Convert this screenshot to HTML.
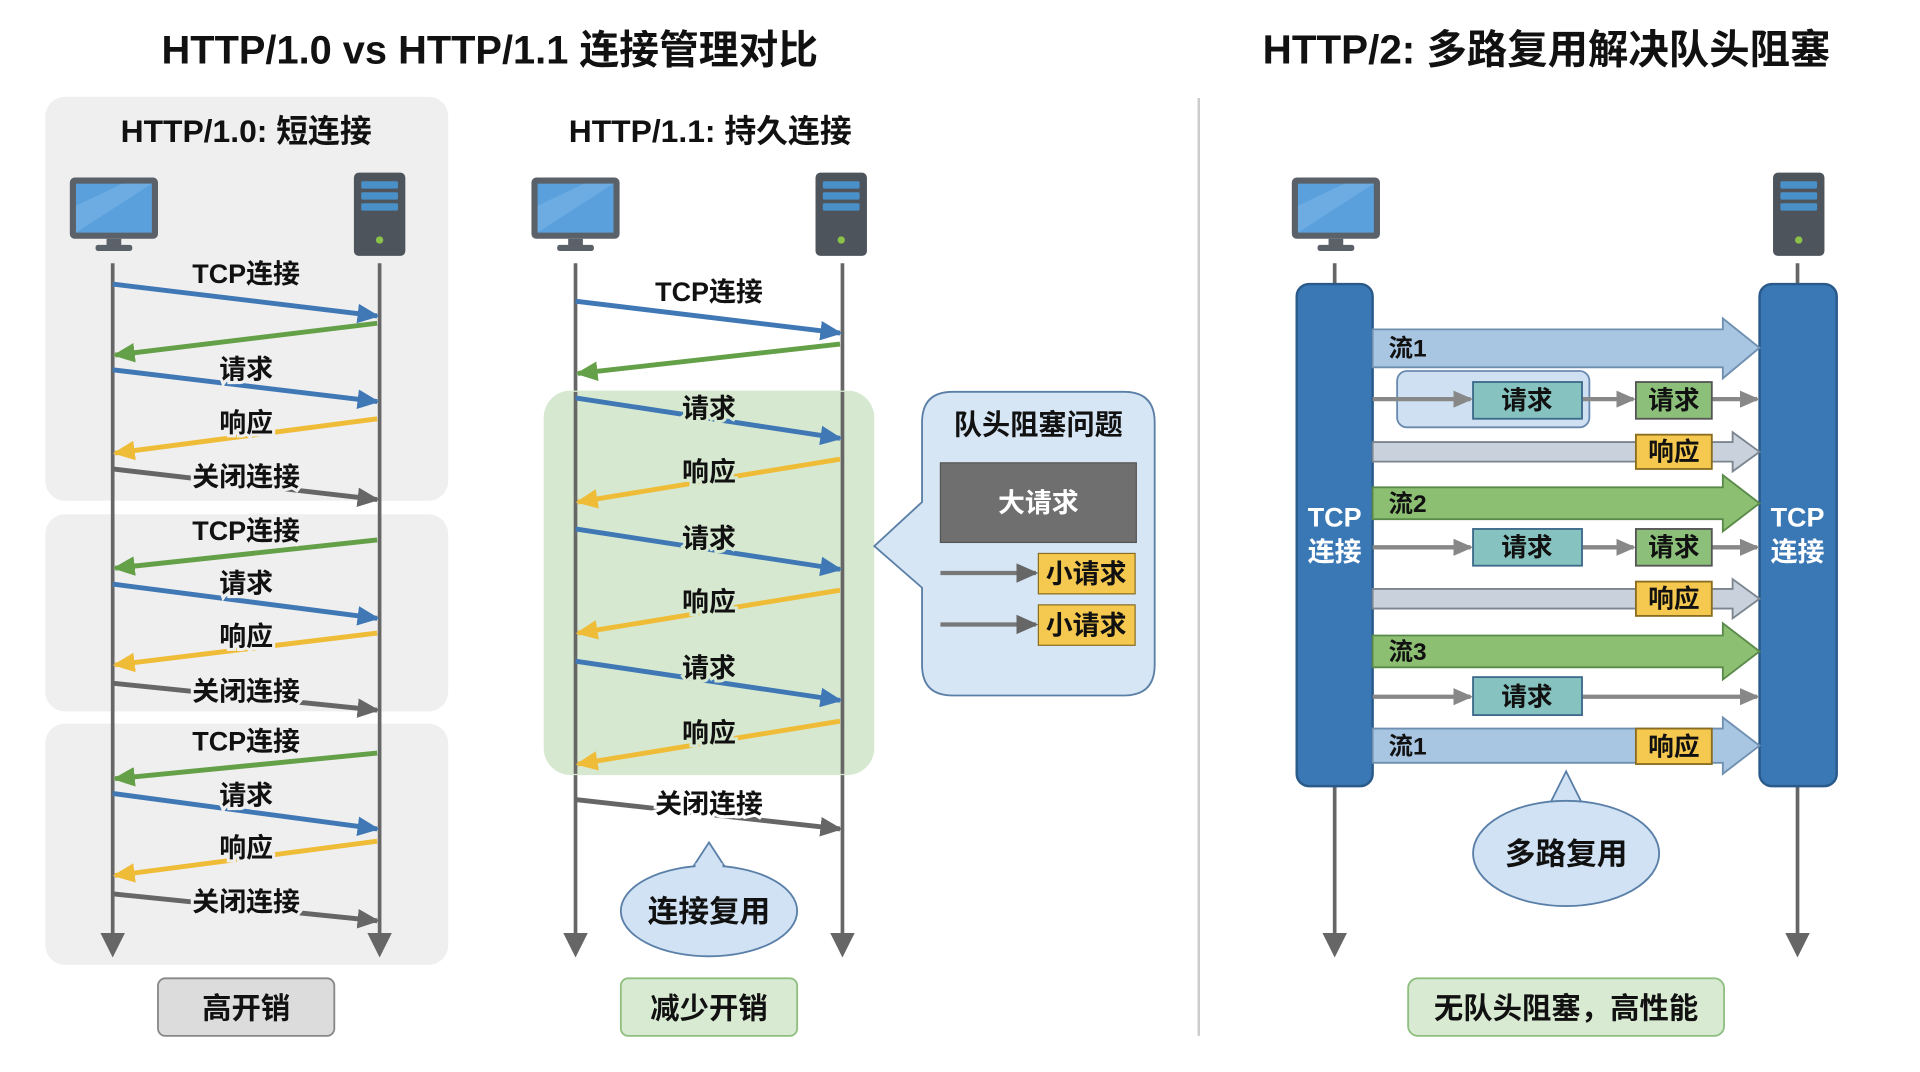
<!DOCTYPE html>
<html><head><meta charset="utf-8"><style>
html,body{margin:0;padding:0;background:#fff}
svg{display:block}
text{font-family:"Liberation Sans","Noto Sans CJK SC",sans-serif;font-weight:bold;fill:#111}
</style></head><body>
<svg width="1920" height="1072" viewBox="0 0 1568 875.5" xmlns="http://www.w3.org/2000/svg">
<defs>
<marker id="mb" markerUnits="userSpaceOnUse" markerWidth="18" markerHeight="16" refX="16" refY="8" orient="auto"><path d="M0,0 L18,8 L0,16 z" fill="#3f78b4"/></marker>
<marker id="mg" markerUnits="userSpaceOnUse" markerWidth="18" markerHeight="16" refX="16" refY="8" orient="auto"><path d="M0,0 L18,8 L0,16 z" fill="#63a047"/></marker>
<marker id="my" markerUnits="userSpaceOnUse" markerWidth="18" markerHeight="16" refX="16" refY="8" orient="auto"><path d="M0,0 L18,8 L0,16 z" fill="#efbc38"/></marker>
<marker id="mk" markerUnits="userSpaceOnUse" markerWidth="18" markerHeight="16" refX="16" refY="8" orient="auto"><path d="M0,0 L18,8 L0,16 z" fill="#666"/></marker>
<marker id="mk2" markerUnits="userSpaceOnUse" markerWidth="16" markerHeight="14" refX="14" refY="7" orient="auto"><path d="M0,0 L16,7 L0,14 z" fill="#888"/></marker>
</defs>

<!-- titles -->
<text x="400" y="52" font-size="32.5" text-anchor="middle">HTTP/1.0 vs HTTP/1.1 连接管理对比</text>
<text x="1263" y="52" font-size="33" text-anchor="middle">HTTP/2: 多路复用解决队头阻塞</text>
<line x1="979" y1="80" x2="979" y2="846" stroke="#ccc" stroke-width="2"/>

<!-- left panels -->
<rect x="37" y="79" width="329" height="330" rx="16" fill="#efefef"/>
<rect x="37" y="420" width="329" height="161" rx="16" fill="#efefef"/>
<rect x="37" y="591" width="329" height="197" rx="16" fill="#efefef"/>
<text x="201" y="116" font-size="26" text-anchor="middle">HTTP/1.0: 短连接</text>
<text x="580" y="116" font-size="26" text-anchor="middle">HTTP/1.1: 持久连接</text>

<!-- icons -->
<g id="mon1">
<rect x="57" y="145" width="72" height="50" rx="4" fill="#5b6168"/><rect x="62" y="150" width="62" height="40" fill="#5aa0dc"/><path d="M62,190 L62,168 L100,150 L124,150 L124,150 Z" fill="#7db8e8" opacity="0.5"/>
<rect x="87" y="195" width="12" height="6" fill="#5b6168"/><rect x="78" y="200" width="30" height="5" rx="2" fill="#5b6168"/>
</g>
<use href="#mon1" x="377" y="0"/>
<use href="#mon1" x="998" y="0"/>
<g id="srv1">
<rect x="289" y="141" width="42" height="68" rx="4" fill="#4d545c"/>
<rect x="295" y="148" width="30" height="6" rx="1" fill="#4a90c8"/><rect x="295" y="157" width="30" height="6" rx="1" fill="#4a90c8"/><rect x="295" y="166" width="30" height="6" rx="1" fill="#4a90c8"/>
<circle cx="310" cy="196" r="3" fill="#8bc34a"/>
</g>
<use href="#srv1" x="377" y="0"/>
<use href="#srv1" x="1159" y="0"/>

<!-- lifelines -->
<g stroke="#666" stroke-width="3">
<line x1="92" y1="215" x2="92" y2="766"/>
<line x1="310" y1="215" x2="310" y2="766"/>
<line x1="470" y1="215" x2="470" y2="766"/>
<line x1="688" y1="215" x2="688" y2="766"/>
<line x1="1090" y1="215" x2="1090" y2="766"/>
<line x1="1468" y1="215" x2="1468" y2="766"/>
</g>
<g fill="#666">
<path d="M82,762 L102,762 L92,782 Z"/><path d="M300,762 L320,762 L310,782 Z"/>
<path d="M460,762 L480,762 L470,782 Z"/><path d="M678,762 L698,762 L688,782 Z"/>
<path d="M1080,762 L1100,762 L1090,782 Z"/><path d="M1458,762 L1478,762 L1468,782 Z"/>
</g>

<!-- HTTP/1.0 arrows -->
<g stroke-width="4">
<line x1="92" y1="232" x2="308" y2="258" stroke="#3f78b4" marker-end="url(#mb)"/>
<line x1="308" y1="264" x2="94" y2="290" stroke="#63a047" marker-end="url(#mg)"/>
<line x1="92" y1="302" x2="308" y2="328" stroke="#3f78b4" marker-end="url(#mb)"/>
<line x1="308" y1="342" x2="94" y2="370" stroke="#efbc38" marker-end="url(#my)"/>
<line x1="92" y1="383" x2="308" y2="408" stroke="#666" marker-end="url(#mk)"/>
<line x1="308" y1="441" x2="94" y2="464" stroke="#63a047" marker-end="url(#mg)"/>
<line x1="92" y1="477" x2="308" y2="505" stroke="#3f78b4" marker-end="url(#mb)"/>
<line x1="308" y1="517" x2="94" y2="543" stroke="#efbc38" marker-end="url(#my)"/>
<line x1="92" y1="558" x2="308" y2="580" stroke="#666" marker-end="url(#mk)"/>
<line x1="308" y1="615" x2="94" y2="636" stroke="#63a047" marker-end="url(#mg)"/>
<line x1="92" y1="648" x2="308" y2="677" stroke="#3f78b4" marker-end="url(#mb)"/>
<line x1="308" y1="687" x2="94" y2="715" stroke="#efbc38" marker-end="url(#my)"/>
<line x1="92" y1="730" x2="308" y2="752" stroke="#666" marker-end="url(#mk)"/>
</g>
<g font-size="22" text-anchor="middle" stroke="#efefef" stroke-width="5" paint-order="stroke">
<text x="201" y="231">TCP连接</text><text x="201" y="309">请求</text><text x="201" y="353">响应</text><text x="201" y="397">关闭连接</text>
<text x="201" y="441">TCP连接</text><text x="201" y="484">请求</text><text x="201" y="527">响应</text><text x="201" y="572">关闭连接</text>
<text x="201" y="613">TCP连接</text><text x="201" y="657">请求</text><text x="201" y="700">响应</text><text x="201" y="744">关闭连接</text>
</g>
<rect x="129" y="799" width="144" height="47" rx="6" fill="#dcdcdc" stroke="#888" stroke-width="1.5"/>
<text x="201" y="832" font-size="24" text-anchor="middle">高开销</text>

<!-- HTTP/1.1 -->
<rect x="444" y="319" width="270" height="314" rx="22" fill="#d6e9d0"/>
<line x1="470" y1="320" x2="470" y2="632" stroke="#666" stroke-width="3"/>
<line x1="688" y1="320" x2="688" y2="632" stroke="#666" stroke-width="3"/>
<g stroke-width="4">
<line x1="470" y1="246" x2="686" y2="272" stroke="#3f78b4" marker-end="url(#mb)"/>
<line x1="686" y1="281" x2="472" y2="305" stroke="#63a047" marker-end="url(#mg)"/>
<line x1="470" y1="325" x2="686" y2="358" stroke="#3f78b4" marker-end="url(#mb)"/>
<line x1="686" y1="375" x2="472" y2="410" stroke="#efbc38" marker-end="url(#my)"/>
<line x1="470" y1="432" x2="686" y2="465" stroke="#3f78b4" marker-end="url(#mb)"/>
<line x1="686" y1="482" x2="472" y2="517" stroke="#efbc38" marker-end="url(#my)"/>
<line x1="470" y1="540" x2="686" y2="572" stroke="#3f78b4" marker-end="url(#mb)"/>
<line x1="686" y1="589" x2="472" y2="624" stroke="#efbc38" marker-end="url(#my)"/>
<line x1="470" y1="653" x2="686" y2="677" stroke="#666" marker-end="url(#mk)"/>
</g>
<g font-size="22" text-anchor="middle" paint-order="stroke" stroke-width="5">
<text x="579" y="246" stroke="#fff">TCP连接</text>
<text x="579" y="341" stroke="#d6e9d0">请求</text><text x="579" y="393" stroke="#d6e9d0">响应</text>
<text x="579" y="447" stroke="#d6e9d0">请求</text><text x="579" y="499" stroke="#d6e9d0">响应</text>
<text x="579" y="553" stroke="#d6e9d0">请求</text><text x="579" y="606" stroke="#d6e9d0">响应</text>
<text x="579" y="664" stroke="#fff">关闭连接</text>
</g>
<path d="M566,708 L579,688 L592,708" fill="#d0e2f3" stroke="#5a7fa8" stroke-width="1.5"/>
<ellipse cx="579" cy="744" rx="72" ry="37" fill="#d0e2f3" stroke="#5a7fa8" stroke-width="1.5"/>
<rect x="568" y="705" width="22" height="6" fill="#d0e2f3"/>
<text x="579" y="753" font-size="25" text-anchor="middle">连接复用</text>
<rect x="507" y="799" width="144" height="47" rx="6" fill="#d9ead3" stroke="#8fbf80" stroke-width="1.5"/>
<text x="579" y="832" font-size="24" text-anchor="middle">减少开销</text>

<!-- HOL bubble -->
<path d="M778,320 L918,320 Q943,320 943,345 L943,543 Q943,568 918,568 L778,568 Q753,568 753,543 L753,480 L714,446 L753,410 L753,345 Q753,320 778,320 Z" fill="#d6e6f5" stroke="#5b7fa6" stroke-width="1.5"/>
<text x="848" y="355" font-size="23" text-anchor="middle">队头阻塞问题</text>
<rect x="768" y="378" width="160" height="65" fill="#6f6f6f" stroke="#555"/>
<text x="848" y="418" font-size="22" text-anchor="middle" style="fill:#fff">大请求</text>
<g stroke="#777" stroke-width="3.5">
<line x1="768" y1="468" x2="846" y2="468" marker-end="url(#mk)"/>
<line x1="768" y1="510" x2="846" y2="510" marker-end="url(#mk)"/>
</g>
<rect x="848" y="452" width="79" height="33" fill="#f5c94f" stroke="#8a6d20"/>
<rect x="848" y="494" width="79" height="33" fill="#f5c94f" stroke="#8a6d20"/>
<text x="887" y="476" font-size="22" text-anchor="middle">小请求</text>
<text x="887" y="518" font-size="22" text-anchor="middle">小请求</text>

<!-- HTTP/2 -->
<rect x="1059" y="232" width="62" height="410" rx="10" fill="#3a78b5" stroke="#2a5a8a" stroke-width="2"/>
<rect x="1437" y="232" width="63" height="410" rx="10" fill="#3a78b5" stroke="#2a5a8a" stroke-width="2"/>
<g font-size="22" text-anchor="middle">
<text x="1090" y="430" style="fill:#fff">TCP</text><text x="1090" y="458" style="fill:#fff">连接</text>
<text x="1468" y="430" style="fill:#fff">TCP</text><text x="1468" y="458" style="fill:#fff">连接</text>
</g>
<g stroke-width="1.5">
<path d="M1121,269 L1407,269 L1407,260 L1437,284 L1407,309 L1407,300 L1121,300 Z" fill="#a8c5e2" stroke="#6f8fb0"/>
<path d="M1121,361 L1415,361 L1415,353 L1437,369 L1415,385 L1415,377 L1121,377 Z" fill="#c9d2dc" stroke="#7a8590"/>
<path d="M1121,398 L1407,398 L1407,388 L1437,411 L1407,434 L1407,424 L1121,424 Z" fill="#8dbf73" stroke="#5a8a4a"/>
<path d="M1121,481 L1415,481 L1415,473 L1437,489 L1415,505 L1415,497 L1121,497 Z" fill="#c9d2dc" stroke="#7a8590"/>
<path d="M1121,519 L1407,519 L1407,509 L1437,532 L1407,555 L1407,545 L1121,545 Z" fill="#8dbf73" stroke="#5a8a4a"/>
<path d="M1121,595 L1407,595 L1407,586 L1437,609 L1407,632 L1407,623 L1121,623 Z" fill="#a8c5e2" stroke="#6f8fb0"/>
</g>
<g font-size="20">
<text x="1134" y="291">流1</text><text x="1134" y="418">流2</text><text x="1134" y="539">流3</text><text x="1134" y="616">流1</text>
</g>
<rect x="1141" y="303" width="157" height="46" rx="8" fill="#cfe0f2" stroke="#6a8ab0" stroke-width="1.5"/>
<g stroke="#888" stroke-width="3.5">
<line x1="1121" y1="326" x2="1201" y2="326" marker-end="url(#mk2)"/>
<line x1="1292" y1="326" x2="1334" y2="326" marker-end="url(#mk2)"/>
<line x1="1398" y1="326" x2="1435" y2="326" marker-end="url(#mk2)"/>
<line x1="1121" y1="447" x2="1201" y2="447" marker-end="url(#mk2)"/>
<line x1="1292" y1="447" x2="1334" y2="447" marker-end="url(#mk2)"/>
<line x1="1398" y1="447" x2="1435" y2="447" marker-end="url(#mk2)"/>
<line x1="1121" y1="569" x2="1201" y2="569" marker-end="url(#mk2)"/>
<line x1="1292" y1="569" x2="1435" y2="569" marker-end="url(#mk2)"/>
</g>
<g stroke-width="1.5">
<rect x="1203" y="312" width="89" height="30" fill="#86c3c0" stroke="#3c6a8a"/>
<rect x="1336" y="312" width="62" height="30" fill="#8cc07a" stroke="#555"/>
<rect x="1336" y="355" width="62" height="28" fill="#f5c94f" stroke="#8a6d20"/>
<rect x="1203" y="432" width="89" height="30" fill="#86c3c0" stroke="#3c6a8a"/>
<rect x="1336" y="432" width="62" height="30" fill="#8cc07a" stroke="#555"/>
<rect x="1336" y="475" width="62" height="28" fill="#f5c94f" stroke="#8a6d20"/>
<rect x="1203" y="553" width="89" height="31" fill="#86c3c0" stroke="#3c6a8a"/>
<rect x="1336" y="595" width="62" height="29" fill="#f5c94f" stroke="#8a6d20"/>
</g>
<g font-size="21" text-anchor="middle">
<text x="1247" y="334">请求</text><text x="1367" y="334">请求</text><text x="1367" y="376">响应</text>
<text x="1247" y="454">请求</text><text x="1367" y="454">请求</text><text x="1367" y="496">响应</text>
<text x="1247" y="576">请求</text><text x="1367" y="617">响应</text>
</g>
<path d="M1264,660 L1279,630 L1294,660" fill="#d0e2f3" stroke="#5a7fa8" stroke-width="1.5"/>
<ellipse cx="1279" cy="697" rx="76" ry="43" fill="#d0e2f3" stroke="#5a7fa8" stroke-width="1.5"/>
<rect x="1265" y="656" width="28" height="8" fill="#d0e2f3"/>
<text x="1279" y="706" font-size="25" text-anchor="middle">多路复用</text>
<rect x="1150" y="799" width="258" height="47" rx="8" fill="#d9ead3" stroke="#8fbf80" stroke-width="1.5"/>
<text x="1279" y="832" font-size="24" text-anchor="middle">无队头阻塞，高性能</text>
</svg>
</body></html>
